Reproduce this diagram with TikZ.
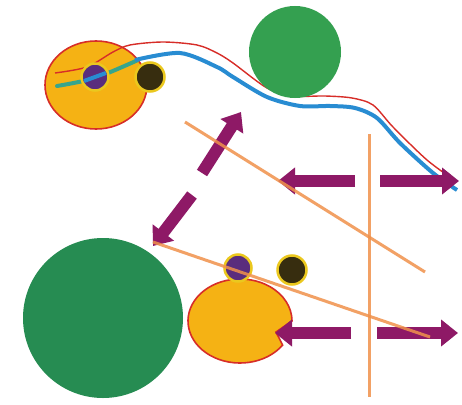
\documentclass[tikz,border=0pt]{standalone}
\usetikzlibrary{arrows.meta,calc,shapes.geometric}
\definecolor{yfill}{RGB}{245,178,20}
\definecolor{rline}{RGB}{215,45,40}
\definecolor{gtop}{RGB}{52,160,80}
\definecolor{gbot}{RGB}{38,140,82}
\definecolor{parrow}{RGB}{142,25,102}
\definecolor{dark}{RGB}{55,45,15}
\definecolor{viol}{RGB}{90,45,125}
\definecolor{bline}{RGB}{40,140,210}
\definecolor{tline}{RGB}{55,165,140}
\definecolor{oline}{RGB}{240,145,75}
\definecolor{glow}{RGB}{235,200,30}
\tikzset{
  bigarrow/.style={draw=parrow,line width=12pt,-{Triangle[width=26pt,length=17pt]}},
  ostroke/.style={draw=oline,line width=3pt,opacity=0.85},
  smallviol/.style={circle,fill=viol,draw=glow,line width=2.5pt,minimum size=27pt,inner sep=0pt},
  smalldark/.style={circle,fill=dark,draw=glow,line width=2.5pt,minimum size=29pt,inner sep=0pt},
}
\begin{document}
\begin{tikzpicture}[x=1pt,y=-1pt]
\useasboundingbox (0,0) rectangle (462,404);
\fill[white] (0,0) rectangle (462,404);
% top-left ellipse
\node[ellipse,fill=yfill,draw=rline,line width=1.6pt,minimum width=102pt,minimum height=88pt,inner sep=0pt] (ell) at (96,85) {};
% curves
\draw[rline,line width=1.4pt] plot[smooth] coordinates {(55,73) (87,67) (113,52) (130,45) (163,42) (197,45) (217,53) (233,63) (267,88) (293,96) (325,96) (352,98) (373,105) (393,127) (427,160) (457,182)};
\draw[tline,line width=4pt,line cap=round] plot[smooth] coordinates {(57,86) (95,78) (138,60)};
\draw[bline,line width=4pt] plot[smooth] coordinates {(135,60) (180,53) (217,67) (233,77) (267,97) (300,106) (330,106) (355,108) (377,118) (400,143) (433,173) (457,190)};
% small circles top
\node[smallviol] (v1) at (95,77) {};
\draw[bline,line width=4pt] (84,81) -- (106,73);
\node[smalldark] (d1) at (150,77) {};
% green top circle
\node[circle,fill=gtop,minimum size=92pt,inner sep=0pt] (gt) at (295,52) {};
% big green circle
\node[circle,fill=gbot,minimum size=160pt,inner sep=0pt] (gb) at (103,318) {};
% bottom pacman
\coordinate (pc) at (240,321);
\coordinate (notch) at (276,332);
\filldraw[fill=yfill,draw=rline,line width=1.6pt] (notch) -- ($(pc)+(35:52 and 42)$) arc[start angle=35,end angle=360,x radius=52,y radius=42] -- cycle;
% small circles bottom
\node[smallviol] (v2) at (238,268) {};
\node[smalldark] (d2) at (292,270) {};
% arrows
\coordinate (a1t) at (202,173); \coordinate (a1h) at (241,112);
\coordinate (a2t) at (192,195); \coordinate (a2h) at (153,246);
\coordinate (a3t) at (355,181); \coordinate (a3h) at (278,181);
\coordinate (a4t) at (380,181); \coordinate (a4h) at (459,181);
\coordinate (a5t) at (351,333); \coordinate (a5h) at (275,333);
\coordinate (a6t) at (377,333); \coordinate (a6h) at (458,333);
\foreach \a in {1,...,6} {\draw[bigarrow] (a\a t) -- (a\a h);}
% orange lines
\coordinate (o1a) at (185,122); \coordinate (o1b) at (425,272);
\coordinate (o2a) at (153,242); \coordinate (o2b) at (430,337);
\coordinate (o3a) at (369,134); \coordinate (o3b) at (369,397);
\draw[ostroke] (o1a) -- (o1b);
\draw[ostroke] (o2a) -- (o2b);
\draw[ostroke] (o3a) -- (o3b);
\end{tikzpicture}
\end{document}
